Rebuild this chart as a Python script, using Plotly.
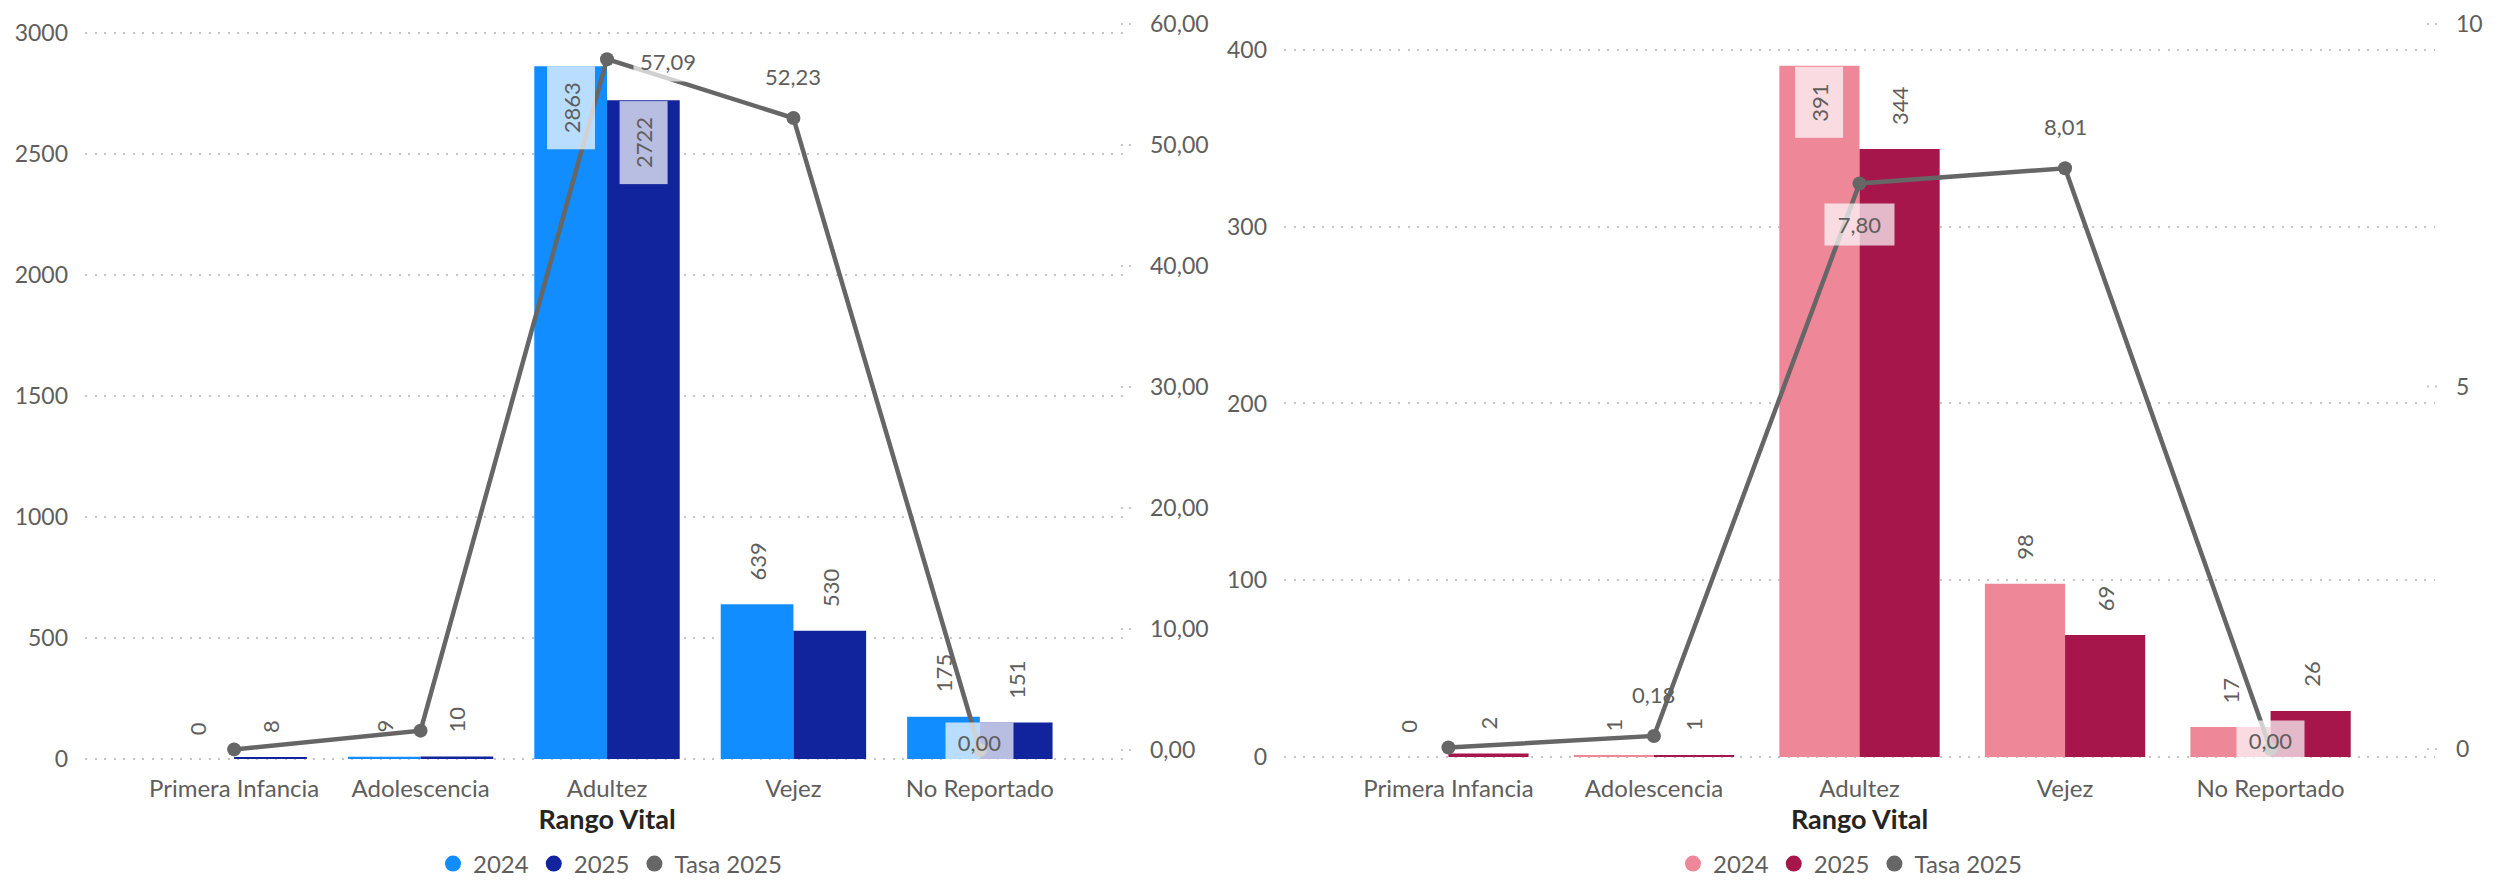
import plotly.graph_objects as go

W, H = 2506, 880
OFF = 8  # the page body adds an 8px margin around the figure
FW, FH = W - OFF, H - OFF

categories = ["Primera Infancia", "Adolescencia", "Adultez", "Vejez", "No Reportado"]
series_names = ["2024", "2025", "Tasa 2025"]

left_2024 = [0, 9, 2863, 639, 175]
left_2025 = [8, 10, 2722, 530, 151]
left_tasa = [0.05, 1.6, 57.09, 52.23, 0.00]

right_2024 = [0, 1, 391, 98, 17]
right_2025 = [2, 1, 344, 69, 26]
right_tasa = [0.02, 0.18, 7.80, 8.01, 0.00]

# where each rate label sits (None = hidden, as in the report)
left_tasa_pos = [None, None, "right", "above", "center"]
right_tasa_pos = [None, "above", "below", "above", "center"]

TEXT = "#605E5C"
TITLE = "#252423"
GRID = "#C8C6C4"
LINE = "#666666"
FONT = "Lato, 'Segoe UI', sans-serif"
BARGAP = 0.22
BAR_W = (1 - BARGAP) / 2
LABEL_BG = "rgba(255,255,255,0.7)"
NB = "\u00a0"


def fx(px):
    return (px - OFF) / FW


def fy(py):
    return 1 - (py - OFF) / FH


PLOT_TOP, PLOT_BOTTOM = 10, 770
YDOM = [fy(PLOT_BOTTOM), fy(PLOT_TOP)]


def fmt_dec(v):
    return f"{v:.2f}".replace(".", ",")


PANELS = [
    dict(
        x="x", y="y", y2="y2", xdom=(85, 1129),
        yrange=[-45.5, 3095], ydtick=500,
        y2range=[-1.653, 61.157], y2dtick=10, y2fmt=".2f",
        colors=("#118DFF", "#12239E"),
        v24=left_2024, v25=left_2025, tasa=left_tasa, pos=left_tasa_pos,
        legend="legend", legend_x=610,
    ),
    dict(
        x="x2", y="y3", y2="y4", xdom=(1284, 2435),
        yrange=[-7.36, 422.6], ydtick=100,
        y2range=[-0.29, 10.193], y2dtick=5, y2fmt="d",
        colors=("#EE8899", "#A6164A"),
        v24=right_2024, v25=right_2025, tasa=right_tasa, pos=right_tasa_pos,
        legend="legend2", legend_x=1850,
    ),
]

fig = go.Figure()
annotations = []
shapes = []
layout = {}

for p in PANELS:
    c24, c25 = p["colors"]
    for name, vals, col in [(series_names[0], p["v24"], c24), (series_names[1], p["v25"], c25)]:
        fig.add_trace(go.Bar(
            x=categories, y=vals, name=name, marker=dict(color=col, line=dict(width=0)),
            xaxis=p["x"], yaxis=p["y"], showlegend=False, offsetgroup=name,
            hoverinfo="skip",
        ))
    fig.add_trace(go.Scatter(
        x=categories, y=p["tasa"], name=series_names[2], mode="lines+markers",
        line=dict(color=LINE, width=4.5), marker=dict(size=14, color=LINE),
        xaxis=p["x"], yaxis=p["y2"], showlegend=False, hoverinfo="skip",
    ))
    # legend entries drawn as circles like the report
    for name, col in zip(series_names, [c24, c25, LINE]):
        fig.add_trace(go.Scatter(
            x=[None], y=[None], mode="markers", name=name,
            marker=dict(size=17, color=col), xaxis=p["x"], yaxis=p["y"],
            legend=p["legend"], showlegend=True,
        ))

    # bar value labels
    for vals, off in [(p["v24"], -BAR_W / 2), (p["v25"], BAR_W / 2)]:
        for i, v in enumerate(vals):
            ann = dict(
                x=i + off, y=v, xref=p["x"], yref=p["y"], text=str(v), textangle=-90,
                showarrow=False, font=dict(size=22, color=TEXT, family=FONT),
                xanchor="center",
            )
            if v > 0.85 * p["yrange"][1]:
                ann.update(text=NB + str(v) + NB, yanchor="top", bgcolor=LABEL_BG,
                           borderpad=10)
            else:
                ann.update(yanchor="bottom", yshift=22)
            annotations.append(ann)

    # rate labels
    for i, (v, pos) in enumerate(zip(p["tasa"], p["pos"])):
        if pos is None:
            continue
        ann = dict(
            x=i, y=v, xref=p["x"], yref=p["y2"], text=fmt_dec(v), showarrow=False,
            font=dict(size=22, color=TEXT, family=FONT),
        )
        if pos == "right":
            ann.update(xanchor="left", yanchor="middle", xshift=26, yshift=-2,
                       bgcolor=LABEL_BG, borderpad=6)
        elif pos == "above":
            ann.update(xanchor="center", yanchor="bottom", yshift=26)
        elif pos == "below":
            ann.update(text=NB + fmt_dec(v) + NB, xanchor="center", yanchor="top",
                       yshift=-20, bgcolor=LABEL_BG, borderpad=7)
        else:
            ann.update(text=NB + fmt_dec(v) + NB, xanchor="center", yanchor="middle",
                       yshift=8, bgcolor=LABEL_BG, borderpad=6)
        annotations.append(ann)

    # short secondary-axis grid stubs
    x_end = p["xdom"][1]
    t = 0
    while t <= p["y2range"][1] + 1e-9:
        shapes.append(dict(
            type="line", xref="paper", yref=p["y2"],
            x0=fx(x_end - 8), x1=fx(x_end + 6), y0=t, y1=t,
            line=dict(color=GRID, width=2, dash="2px,6px"),
        ))
        t += p["y2dtick"]

    xkey = "xaxis" if p["x"] == "x" else "xaxis2"
    ykey = "yaxis" if p["y"] == "y" else "yaxis" + p["y"][1:]
    y2key = "yaxis" + p["y2"][1:]
    layout[xkey] = dict(
        domain=[fx(p["xdom"][0]), fx(p["xdom"][1])], anchor=p["y"],
        range=[-0.8, 4.8], showgrid=False, zeroline=False, showline=False,
        tickfont=dict(size=24, color=TEXT, family=FONT), ticks="", automargin=False,
        ticklabelstandoff=2,
        title=dict(text="Rango Vital", standoff=8,
                   font=dict(size=27, color=TITLE, family=FONT, weight="bold")),
    )
    layout[ykey] = dict(
        domain=YDOM, anchor=p["x"], range=p["yrange"], dtick=p["ydtick"], tick0=0,
        tickformat="d", showgrid=True, gridcolor=GRID, gridwidth=2, griddash="2px,7.5px",
        zeroline=False, showline=False, ticks="", ticklabelstandoff=16, automargin=False,
        ticklabeloverflow="allow",
        tickfont=dict(size=23, color=TEXT, family=FONT),
    )
    layout[y2key] = dict(
        overlaying=p["y"], side="right", anchor=p["x"], range=p["y2range"],
        dtick=p["y2dtick"], tick0=0, tickformat=p["y2fmt"], showgrid=False,
        zeroline=False, showline=False, ticks="", ticklabelstandoff=20, automargin=False,
        ticklabeloverflow="allow",
        tickfont=dict(size=23, color=TEXT, family=FONT),
    )
    layout[p["legend"]] = dict(
        orientation="h", x=fx(p["legend_x"]), xanchor="center",
        y=fy(864), yanchor="middle", font=dict(size=24, color=TEXT, family=FONT),
        bgcolor="rgba(0,0,0,0)", itemclick=False,
    )

fig.update_layout(
    width=FW, height=FH,
    margin=dict(l=0, r=0, t=0, b=0, autoexpand=False),
    paper_bgcolor="white", plot_bgcolor="white",
    barmode="group", bargap=BARGAP, bargroupgap=0,
    separators=",.",
    font=dict(family=FONT, color=TEXT),
    annotations=annotations, shapes=shapes,
    **layout,
)

fig.write_html("out.html")
